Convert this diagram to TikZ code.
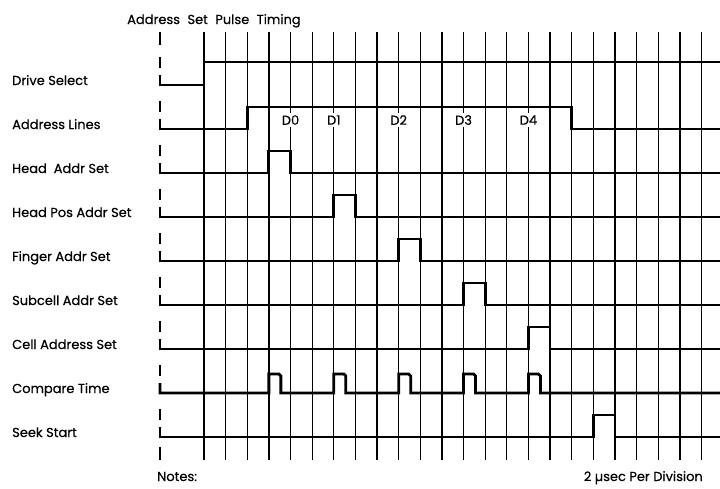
\documentclass[tikz,border=0pt]{standalone}
\usepackage{fontspec}
\setmainfont{Poppins}[UprightFeatures={FakeBold=0.4}]
\tikzset{
  jel/.style={line width=2.8pt,line join=miter},
  racs/.style={line width=1.3pt},
  szag/.style={line width=1.7pt},
  nev/.style={anchor=base west,inner sep=0pt,font=\fontsize{13}{15}\selectfont},
  dcim/.style={fill=white,inner sep=2pt,font=\fontsize{13}{15}\selectfont},
}
\begin{document}
\begin{tikzpicture}[x=1pt,y=-1pt]
  \fill[white] (0,0) rectangle (720,488);
  \useasboundingbox (0,0) rectangle (720,488);
  \def\dx{21.63}
  % racsvonalak
  \foreach \k in {0,...,23}
    \draw[racs] ({204+\k*\dx},32) -- ({204+\k*\dx},460);
  % szaggatott kezdovonal
  \draw[szag] (160,32) -- (160,45);
  \foreach \y in {85,129,...,437}
    \draw[szag] (160,\y-28) -- (160,\y-17);
  \draw[szag] (160,447) -- (160,460);
  % D cimkek
  \foreach \k/\t in {4/D0,6/D1,9/D2,12/D3,15/D4}
    \node[dcim] (d\k) at ({204+\k*\dx},120) {\t};
  % jelek
  \draw[jel] (160,75) -- (160,85) -- (204,85) -- (204,62) -- (720,62);
  \draw[jel] (160,119) -- (160,129) -- ({204+2*\dx},129) -- ({204+2*\dx},107)
    -- ({204+17*\dx},107) -- ({204+17*\dx},129) -- (720,129);
  \foreach \y/\a/\b in {173/3/4,217/6/7,261/9/10,305/12/13,349/15/16,437/18/19}
    \draw[jel] (160,\y-10) -- (160,\y) -- ({204+\a*\dx},\y) -- ({204+\a*\dx},\y-22)
      -- ({204+\b*\dx},\y-22) -- ({204+\b*\dx},\y) -- (720,\y);
  \draw[jel] (160,383) -- (160,393)
    \foreach \k in {3,6,9,12,15} {
      -- ({204+\k*\dx},393) -- ({204+\k*\dx},374) -- ({204+\k*\dx+10},374)
      -- ({204+\k*\dx+12},376) -- ({204+\k*\dx+12},393) }
    -- (720,393);
  % feliratok
  \node[nev] (cim) at (127,24) {Address\hspace{4pt} Set\hspace{4pt} Pulse\hspace{4pt} Timing};
  \foreach \y/\n/\t in {85/drive/Drive Select,129/addr/Address Lines,
      173/head/Head\ \ Addr Set,217/headpos/Head Pos Addr Set,261/finger/Finger Addr Set,
      305/subcell/Subcell Addr Set,349/cell/Cell Address Set,393/compare/Compare Time,
      437/seek/Seek Start}
    \node[nev] (\n) at (12,\y) {\t};
  \node[nev] (notes) at (157,481) {Notes:};
  \node[nev,anchor=base east] (oszt) at (703,481) {2 µsec Per Division};
\end{tikzpicture}
\end{document}
